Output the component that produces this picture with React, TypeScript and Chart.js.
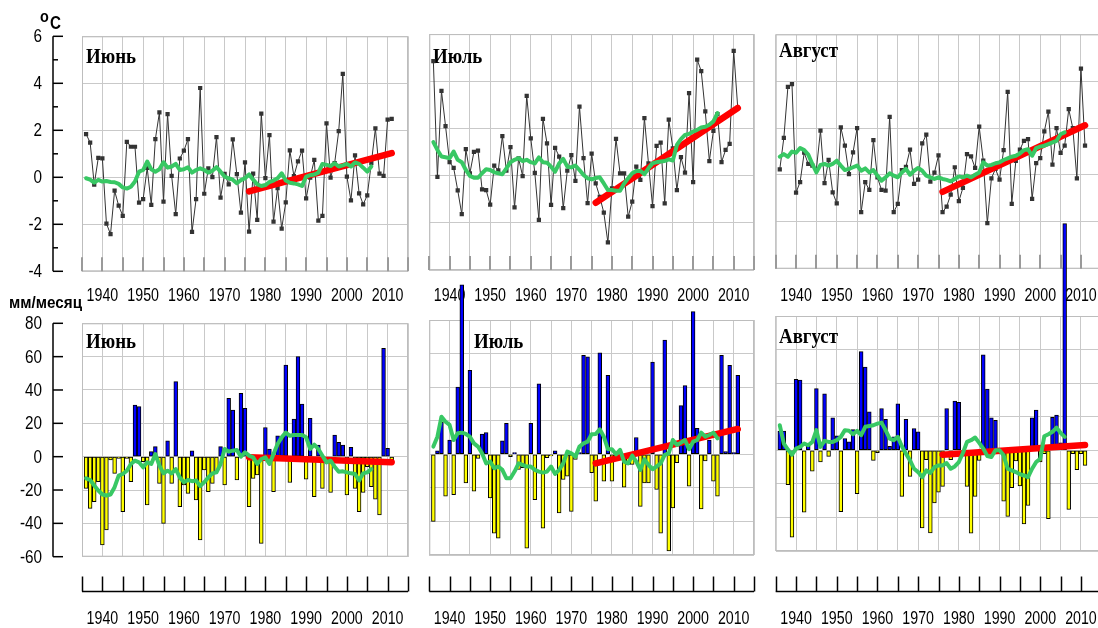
import React, { useEffect, useRef } from 'react';
import { Chart, registerables } from 'chart.js';

Chart.register(...registerables);

// ---------------- DATA ----------------
const FIRST_YEAR = 1936;
const years: number[] = Array.from({ length: 76 }, (_, i) => FIRST_YEAR + i);
const trendYears = [1976, 2011];
const yearLabels = [1940, 1950, 1960, 1970, 1980, 1990, 2000, 2010];
const tempTickLabels = [6, 4, 2, 0, -2, -4];
const tempMinorTicks = [5, 3, 1, -1, -3];
const precTickLabels = [80, 60, 40, 20, 0, -20, -40, -60];

// Temperature anomalies, °C (1936–2011)
const juneTemp = [
  1.84, 1.48, -0.31, 0.83, 0.81, -1.97, -2.42, -0.57, -1.21, -1.64,
  1.51, 1.3, 1.3, -1.08, -0.93, 0.4, -1.17, 1.62, 2.76, -1.04,
  2.69, 0.06, -1.57, 0.8, 1.13, 1.62, -2.32, -0.93, 3.8, -0.7,
  0.38, 0.01, 1.71, -0.87, 0.15, -0.3, 1.61, 0.13, -1.5, 0.63,
  -2.31, 0.16, -1.81, 2.71, -0.04, 1.79, -1.89, -0.46, -2.18, -1.07,
  1.15, 0.05, 0.68, 1.14, -0.9, -0.01, 0.74, -1.84, -1.64, 2.29,
  -0.01, 0.6, 1.97, 4.4, 0.03, -0.98, 0.93, -0.68, -1.15, -0.77,
  0.6, 2.08, 0.16, 0.06, 2.45, 2.49,
];
const julyTemp = [
  4.85, -0.05, 3.59, 2.1, 0.57, 0.33, -0.62, -1.63, 1.12, 0.1,
  1.01, 1.06, -0.58, -0.61, -1.23, 0.42, 0.22, 1.68, 0.21, 1.21,
  -1.35, 0.73, -0.02, 3.38, 1.58, 0.12, -1.88, 2.41, 1.37, -1.24,
  1.18, 0.81, -1.38, 0.21, 0.87, -0.22, 2.93, 0.74, -1.17, 0.93,
  -0.33, -0.9, -1.57, -2.83, -0.54, 1.56, 0.1, 0.1, -1.74, -1.1,
  0.38, -0.18, 2.44, 0.52, -1.29, 1.26, 1.4, -1.18, 2.37, 1.16,
  -0.61, 0.78, 0.13, 3.5, -0.28, 4.92, 4.43, 2.72, 0.62, 1.9,
  2.61, 0.57, 1.09, 1.35, 5.29, 2.87,
];
const augTemp = [
  0.24, 1.58, 3.76, 3.88, -0.75, -0.3, 0.95, 0.47, 0.4, 0.25,
  1.89, -0.35, 0.64, -0.74, -1.21, 2.03, 1.25, 0.04, 0.96, 2.0,
  -1.59, -0.31, -0.64, 1.49, -0.1, -0.64, -0.67, 2.48, -1.59, -1.23,
  0.21, 0.35, 1.08, -0.38, -0.2, 1.35, 1.72, -0.28, 0.1, 0.84,
  -1.59, -1.35, -0.84, 0.33, -1.12, -0.55, 0.89, 0.79, 0.3, 2.06,
  0.61, -2.06, -0.14, 0.26, -0.2, 1.06, 3.55, -1.23, 0.6, 1.08,
  1.46, 1.53, -1.02, 0.51, 0.72, 1.86, 2.7, 0.44, 2.0, 0.94,
  1.25, 2.81, 2.0, -0.14, 4.54, 1.25,
];

// Running means (1936–2006)
const juneTempMA = [
  -0.04, -0.1, -0.23, -0.11, -0.18, -0.16, -0.2, -0.21, -0.28, -0.43,
  -0.48, -0.4, -0.18, 0.24, 0.31, 0.67, 0.34, 0.24, 0.34, 0.64,
  0.41, 0.46, 0.57, 0.31, 0.34, 0.43, 0.2, 0.31, 0.38, 0.31,
  0.2, 0.28, 0.43, 0.24, 0.03, -0.04, -0.1, -0.25, -0.12, -0.04,
  0.12, -0.1, -0.3, -0.37, -0.33, -0.2, -0.14, -0.04, 0.17, -0.14,
  -0.23, -0.26, -0.3, -0.37, 0.03, 0.09, 0.12, 0.2, 0.57, 0.53,
  0.48, 0.6, 0.46, 0.51, 0.57, 0.46, 0.63, 0.57, 0.41, 0.24,
  0.46,
];
const julyTempMA = [
  1.42, 1.09, 0.81, 0.78, 0.74, 1.02, 0.67, 0.57, 0.24, -0.01,
  -0.09, -0.09, 0.1, 0.27, 0.24, 0.14, 0.1, 0.06, 0.31, 0.57,
  0.67, 0.74, 0.62, 0.67, 0.57, 0.52, 0.77, 0.57, 0.55, 0.38,
  0.17, 0.52, 0.71, 0.38, 0.35, 0.43, 0.24, 0.03, -0.11, -0.16,
  -0.1, -0.07, -0.33, -0.61, -0.61, -0.64, -0.64, -0.33, -0.11, 0.1,
  0.2, 0.2, 0.06, 0.31, 0.52, 0.57, 0.6, 0.62, 0.69, 0.64,
  1.3, 1.55, 1.73, 1.77, 1.87, 1.94, 2.04, 2.07, 2.16, 2.3,
  2.65,
];
const augTempMA = [
  0.78, 0.89, 0.78, 1.0, 0.95, 1.15, 1.06, 0.87, 0.47, 0.11,
  0.43, 0.47, 0.4, 0.47, 0.61, 0.4, 0.21, 0.26, 0.33, 0.4,
  0.18, 0.28, 0.11, 0.21, -0.03, -0.24, -0.1, 0.07, -0.03, -0.1,
  0.11, 0.26, 0.01, 0.18, 0.3, 0.18, -0.03, -0.1, -0.17, -0.1,
  -0.17, -0.21, -0.27, -0.17, -0.06, -0.1, -0.03, -0.1, 0.01, 0.11,
  0.54, 0.4, 0.43, 0.5, 0.54, 0.64, 0.71, 0.78, 0.82, 0.92,
  1.06, 1.1, 0.82, 1.15, 1.21, 1.25, 1.32, 1.39, 1.46, 1.74,
  1.82,
];
const juneTempTrend = [-0.6, 1.03];
const julyTempTrend = [-1.15, 2.87];
const augTempTrend = [-0.72, 2.12];

// Precipitation anomalies, mm/month (1936–2011)
const junePrec = [
  -19, -31, -27, -15, -53, -44, -2, -10, -1, -33,
  -1, -15, 31, 30, -3, -29, 3, 6, -16, -40,
  9.5, -16, 45, -30, -17, -22, 3.5, -26, -50, -8,
  -21, -16, -9, 6, -17, 35, 28, -14, 38, 29,
  -30, -13, -11, -52, 17.5, 4.5, -21, 12.5, 12, 55,
  -15.5, 22.5, 60, 31.5, -13.5, 23, -24, 7, -19, -2,
  -21.5, 13, 8.6, 7, -23, 5.6, -19, -33, -21.5, -6,
  -18, -25.5, -35, 65, 5, -2,
];
const julyPrec = [
  -40, 2, 19, -25, 8.5, -24, 40, 101, -17, 50,
  -22, -2.4, 12, 13, -26, -47, -50, 8, 18.5, -1.4,
  1, -9, -8, -56, 18.5, -27, 42, -44, -2, -1,
  2, -35, -15, -13, -34, -3, 1, 59, 58, -11,
  -28, 60.5, -16, 47, -16, -2, -3, -19.6, -6, -6,
  10, -31, -17, -17, 55, -21, -47, 68, -57.5, -32,
  -5, 29, 41, -19, 85, 15.5, -32.5, -4, 8.5, -16,
  -25, 59, 1.6, 53, 1, 47,
];
const augPrec = [
  11.4, 11.4, -20.5, -51.8, 42.2, 41.8, -36.9, 2.4, -12.5, 36.7,
  -7, 33.7, -3.6, 19.3, 8.6, -36.5, 7, 5, 12.4, -25.9,
  58.8, 49.6, 22.9, -6, -1.4, 24.9, 18.5, 2.4, 8, 27.7,
  -27.5, 18.5, -15.5, 13, 11, -46.2, -5.6, -49.2, -31.3, -24.9,
  -21.5, 24.9, -5.6, 29.3, 28.5, -2, -21.5, -49.4, -27.5, -6,
  56.8, 36.5, 19.3, 17.9, -2, -30.3, -39.4, -22.3, -6.4, -21.3,
  -43.8, -32.9, 19.3, 23.9, -7, -2, -40.8, 19.7, 20.9, 4.4,
  135, -35.3, -2, -11.6, -2, -9,
];
const junePrecMA = [
  -13, -14, -17.3, -20.3, -22.7, -23.3, -22.7, -18.3, -11.4, -10.4,
  -8.4, -4.4, -2.4, -3.4, -6.4, -3.4, -4.4, 1.6, -5.4, -10,
  -8.4, -10, -7.4, -12.4, -15.3, -14, -14.7, -14.3, -17.7, -15.3,
  -12.4, -10, -9.4, -4.4, 4.6, 3, 3.6, 4, 0, 2.6,
  0.6, -0.4, -4.4, -1.4, -0.4, -4.4, 1.6, 7.6, 11.6, 14.5,
  12.5, 13, 13, 13, 11.6, 4.6, 7.2, 4.6, 0.6, -3.4,
  -2.4, -6, -9, -8.8, -9.4, -10, -10.4, -14.3, -10, -9.4,
  -7.4,
];
const julyPrecMA = [
  4.6, 10.5, 22.4, 19.4, 17.5, 8.5, 12.5, 12.9, 12.1, 10.5,
  6.5, 4.6, 0.6, -5.4, -4.4, -8.3, -7.3, -9.3, -14.3, -14.3,
  -10.3, -5.4, -6.3, -7.3, -7.3, -9.3, -10.3, -10.9, -10.3, -7.3,
  -11.7, -9.3, -5.4, 1.6, 0.6, -1.4, 4.6, 6.5, 7.5, 11.9,
  12.1, 14.9, 10.5, 3, 3, 0, 2.6, -4.4, -5.4, -0.8,
  -4.4, -9.3, -3, -6.3, -8.9, -7.3, -5.4, -0.4, 0.6, 8.5,
  5.6, 6.9, 8.5, 3, 7.5, 8.5, 12.9, 10.5, 11.5, 12.9,
  9.5,
];
const augPrecMA = [
  14.9, 4, 0.4, -2.6, 1, 2, 4, 3, 5, 12,
  2, 5.6, 5, 5, 6, 8, 12, 11.6, 9.6, 11.6,
  9, 14, 14.5, 14.9, 15.9, 16.5, 12, 7, 6, 8,
  2.4, -2, -6, -11, -13, -16, -12, -13.5, -10, -9,
  -9, -7.6, -11, -9.6, -7, -1.6, 5, 6, 7.6, 4.4,
  1, -3.4, -4, 0, 0, -3, -11, -12, -13, -14.3,
  -15, -16, -11, -7, -5, 8.4, 9.6, 11, 13.5, 10.4,
  8,
];
const junePrecTrend = [-0.3, -3.3];
const julyPrecTrend = [-5.4, 15.1];
const augPrecTrend = [-2.6, 3.1];

// ---------------- STYLE / LAYOUT ----------------
const W = 1110;
const H = 628;
const GRID = '#c9c9c9';
const BOX = '#bdbdbd';
const GREEN = '#38c864';
const RED = '#ff0000';
const BLUE = '#0000ff';
const YELLOW = '#ffff00';
const POINT = '#333333';
const SANS = '"Liberation Sans", Arial, sans-serif';
const SERIF = '"Liberation Serif", "Times New Roman", serif';
const TOP_LABEL_Y = 296;
const BOTTOM_LABEL_Y = 619;
const BOTTOM_AXIS_Y = 591.5;

type Area = { left: number; right: number; top: number; bottom: number };
interface PanelSpec {
  kind: 'temp' | 'prec';
  title: string;
  titleX: number;
  titleY: number;
  values: number[];
  ma: number[];
  trend: number[];
  area: Area;
  yMin: number;
  yMax: number;
  yStep: number;
  yAxis: boolean;
}

const panels: PanelSpec[] = [
  { kind: 'temp', title: 'Июнь', titleX: 86, titleY: 63, values: juneTemp, ma: juneTempMA, trend: juneTempTrend,
    area: { left: 82, right: 408, top: 36.3, bottom: 271.3 }, yMin: -4, yMax: 6, yStep: 2, yAxis: true },
  { kind: 'temp', title: 'Июль', titleX: 433, titleY: 63, values: julyTemp, ma: julyTempMA, trend: julyTempTrend,
    area: { left: 429.3, right: 754, top: 34.1, bottom: 270 }, yMin: -4, yMax: 6, yStep: 2, yAxis: false },
  { kind: 'temp', title: 'Август', titleX: 779, titleY: 57, values: augTemp, ma: augTempMA, trend: augTempTrend,
    area: { left: 775.7, right: 1101.3, top: 34.4, bottom: 268.7 }, yMin: -4, yMax: 6, yStep: 2, yAxis: false },
  { kind: 'prec', title: 'Июнь', titleX: 86, titleY: 348, values: junePrec, ma: junePrecMA, trend: junePrecTrend,
    area: { left: 82, right: 408, top: 323.3, bottom: 556.7 }, yMin: -60, yMax: 80, yStep: 20, yAxis: true },
  { kind: 'prec', title: 'Июль', titleX: 474, titleY: 348, values: julyPrec, ma: julyPrecMA, trend: julyPrecTrend,
    area: { left: 429.3, right: 754, top: 320, bottom: 555 }, yMin: -60, yMax: 80, yStep: 20, yAxis: false },
  { kind: 'prec', title: 'Август', titleX: 779, titleY: 343, values: augPrec, ma: augPrecMA, trend: augPrecTrend,
    area: { left: 775.7, right: 1101.3, top: 316, bottom: 551 }, yMin: -60, yMax: 80, yStep: 20, yAxis: false },
];

function drawText(ctx: CanvasRenderingContext2D, text: string, x: number, y: number, font: string,
  align: CanvasTextAlign, sx: number, baseline: CanvasTextBaseline = 'alphabetic') {
  ctx.save();
  ctx.font = font;
  ctx.fillStyle = '#000';
  ctx.textAlign = align;
  ctx.textBaseline = baseline;
  ctx.translate(x, y);
  ctx.scale(sx, 1);
  ctx.fillText(text, 0, 0);
  ctx.restore();
}

function drawTextFit(ctx: CanvasRenderingContext2D, text: string, x: number, y: number, font: string, width: number) {
  ctx.save();
  ctx.font = font;
  const w = ctx.measureText(text).width || width;
  drawText(ctx, text, x, y, font, 'left', width / w);
  ctx.restore();
}

function makeDecor(p: PanelSpec) {
  return {
    id: 'decor',
    beforeDatasetsDraw(chart: any) {
      const { ctx, chartArea: a, scales } = chart;
      const x = scales.x;
      ctx.save();
      ctx.strokeStyle = BOX;
      ctx.lineWidth = 1;
      ctx.strokeRect(a.left + 0.5, a.top + 0.5, a.right - a.left - 1, a.bottom - a.top - 1);
      if (p.kind === 'temp') {
        ctx.strokeStyle = '#9a9a9a';
        ctx.lineWidth = 2;
        x.ticks.forEach((t: any) => {
          const px = Math.round(x.getPixelForValue(t.value));
          ctx.beginPath();
          ctx.moveTo(px, a.bottom - 14);
          ctx.lineTo(px, a.bottom);
          ctx.stroke();
        });
      }
      ctx.restore();
      drawText(ctx, p.title, p.titleX, p.titleY, `bold 21px ${SERIF}`, 'left', 0.9);
    },
    afterDraw(chart: any) {
      const { ctx, chartArea: a, scales } = chart;
      const x = scales.x;
      const y = scales.y;
      const labelY = p.kind === 'temp' ? TOP_LABEL_Y : BOTTOM_LABEL_Y;
      yearLabels.forEach((yr) => {
        drawText(ctx, String(yr), x.getPixelForValue(yr), labelY, `18px ${SANS}`, 'center', 0.79, 'middle');
      });
      ctx.save();
      ctx.strokeStyle = '#000';
      ctx.lineWidth = 1.5;
      if (p.kind === 'prec') {
        ctx.beginPath();
        ctx.moveTo(a.left, BOTTOM_AXIS_Y);
        ctx.lineTo(a.right, BOTTOM_AXIS_Y);
        ctx.stroke();
        x.ticks.forEach((t: any) => {
          const px = Math.round(x.getPixelForValue(t.value)) + 0.5;
          ctx.beginPath();
          ctx.moveTo(px, BOTTOM_AXIS_Y);
          ctx.lineTo(px, BOTTOM_AXIS_Y - 15);
          ctx.stroke();
        });
      }
      if (p.yAxis) {
        const axX = a.left - 29;
        const major = p.kind === 'temp' ? tempTickLabels : precTickLabels;
        ctx.beginPath();
        ctx.moveTo(axX, y.getPixelForValue(p.yMax));
        ctx.lineTo(axX, y.getPixelForValue(p.yMin));
        ctx.stroke();
        major.forEach((v) => {
          const py = y.getPixelForValue(v);
          ctx.beginPath();
          ctx.moveTo(axX, py);
          ctx.lineTo(axX + 10, py);
          ctx.stroke();
          drawText(ctx, String(v), axX - 11, py + 1, `18px ${SANS}`, 'right', 0.85, 'middle');
        });
        if (p.kind === 'temp') {
          tempMinorTicks.forEach((v) => {
            const py = y.getPixelForValue(v);
            ctx.beginPath();
            ctx.moveTo(axX, py);
            ctx.lineTo(axX + 5, py);
            ctx.stroke();
          });
          drawText(ctx, 'o', axX - 13, y.getPixelForValue(p.yMax) - 14, `bold 16px ${SANS}`, 'left', 0.9);
          drawText(ctx, 'C', axX - 3, y.getPixelForValue(p.yMax) - 7, `bold 19px ${SANS}`, 'left', 0.8);
        } else {
          drawTextFit(ctx, 'мм/месяц', 9, a.top - 15, `bold 17px ${SANS}`, 73);
        }
      }
      ctx.restore();
    },
  };
}

function buildConfig(p: PanelSpec): any {
  const pts = years.map((yr, i) => ({ x: yr, y: p.values[i] }));
  const maPts = p.ma.map((v, i) => ({ x: years[i], y: v }));
  const trendPts = trendYears.map((yr, i) => ({ x: yr, y: p.trend[i] }));
  const datasets: any[] = [
    { type: 'line', data: maPts, borderColor: GREEN, borderWidth: 4, pointRadius: 0,
      borderJoinStyle: 'round', borderCapStyle: 'round', order: 0 },
    { type: 'line', data: trendPts, borderColor: RED, borderWidth: 6.5, pointRadius: 0,
      borderCapStyle: 'round', order: 1 },
  ];
  if (p.kind === 'temp') {
    datasets.push({ type: 'line', data: pts, borderColor: POINT, borderWidth: 1, pointStyle: 'rect',
      pointRadius: 3, pointBackgroundColor: POINT, pointBorderWidth: 0, order: 2 });
  } else {
    datasets.push({ type: 'bar', data: pts,
      backgroundColor: (c: any) => (c.raw && c.raw.y >= 0 ? BLUE : YELLOW),
      borderColor: '#000', borderWidth: 1, borderSkipped: false, barThickness: 3.8,
      clip: false, order: 2 });
  }
  const a = p.area;
  return {
    type: p.kind === 'temp' ? 'line' : 'bar',
    data: { datasets },
    options: {
      animation: false,
      responsive: false,
      events: [],
      layout: { padding: { left: a.left, top: a.top, right: W - a.right, bottom: H - a.bottom } },
      plugins: { legend: { display: false }, tooltip: { enabled: false }, title: { display: false } },
      scales: {
        x: {
          type: 'linear', min: 1935, max: 2015, offset: false,
          ticks: { display: false, stepSize: 5 },
          grid: { color: GRID, lineWidth: 1, drawTicks: false, offset: false },
          border: { display: false },
          afterFit: (s: any) => { s.height = 0; },
        },
        y: {
          type: 'linear', min: p.yMin, max: p.yMax,
          ticks: { display: false, stepSize: p.yStep },
          grid: { color: GRID, lineWidth: 1, drawTicks: false },
          border: { display: false },
          afterFit: (s: any) => { s.width = 0; },
        },
      },
    },
    plugins: [makeDecor(p)],
  };
}

function Panel({ spec }: { spec: PanelSpec }) {
  const ref = useRef<HTMLCanvasElement>(null);
  useEffect(() => {
    if (!ref.current) return;
    const chart = new Chart(ref.current, buildConfig(spec));
    return () => chart.destroy();
  }, [spec]);
  return (
    <canvas ref={ref} width={W} height={H}
      style={{ position: 'absolute', left: 0, top: 0, width: W, height: H }} />
  );
}

export default function App() {
  return (
    <div style={{ position: 'fixed', left: 0, top: 0, width: 1098, height: 628, overflow: 'hidden', background: '#fff' }}>
      {panels.map((p, i) => (
        <Panel key={i} spec={p} />
      ))}
    </div>
  );
}
